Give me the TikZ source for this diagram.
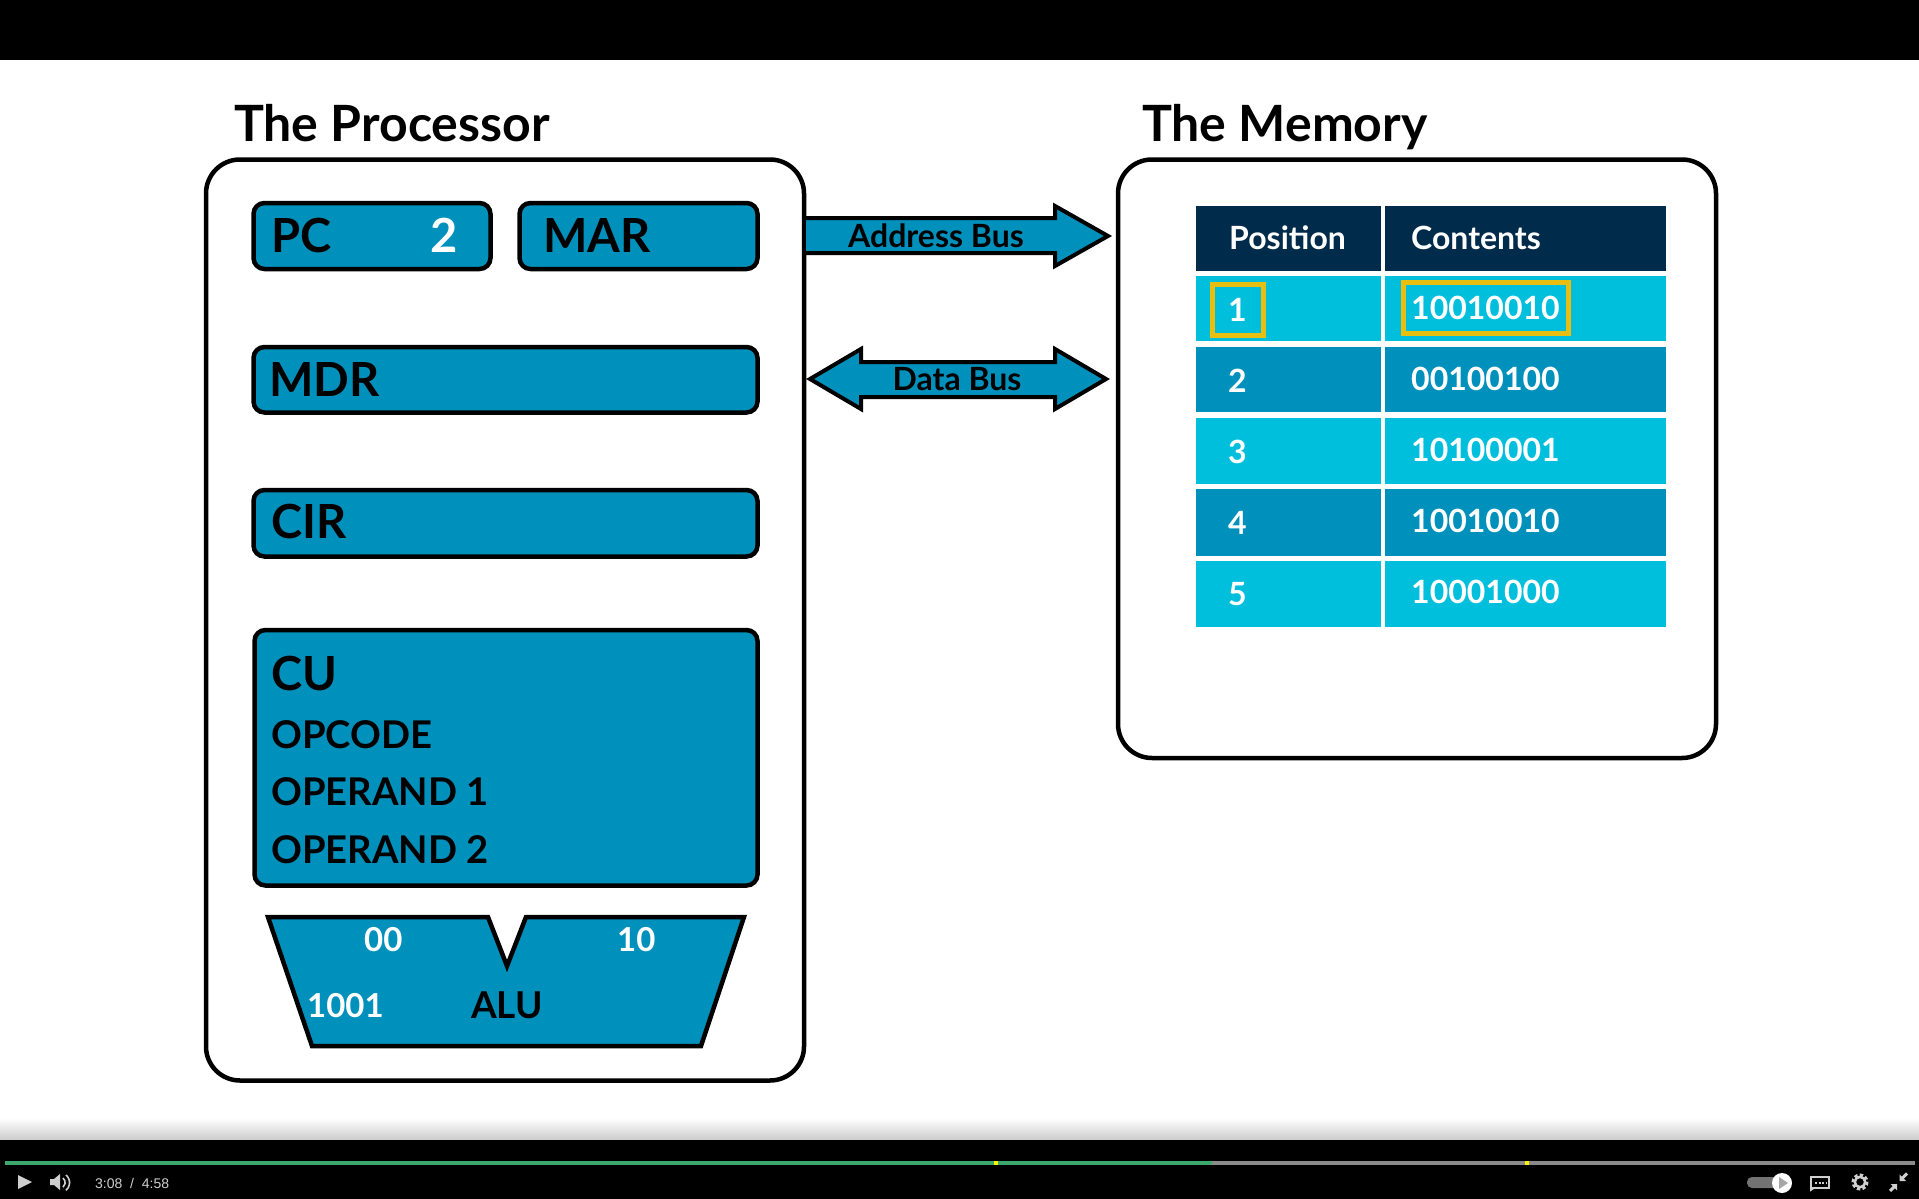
\documentclass[tikz,border=0pt]{standalone}
\usepackage{fontspec}
\setmainfont{Lato}
\newfontfamily\uifont{Liberation Sans}
\usetikzlibrary{calc}
\definecolor{fillblue}{HTML}{0090BC}
\definecolor{lightcell}{HTML}{00BFDD}
\definecolor{headcell}{HTML}{012B4A}
\definecolor{gold}{HTML}{E8BF10}
\definecolor{uigray}{HTML}{CFCFCF}
\definecolor{progressgreen}{HTML}{3CA86B}
\definecolor{progressgray}{HTML}{8A8A8A}
\newcommand{\fs}[1]{\fontsize{#1}{#1}\selectfont}
\tikzset{
  x=1pt,y=-1pt,
  outerbox/.style={draw=black,line width=4.5pt,rounded corners=34pt,fill=white},
  regbox/.style={draw=black,line width=4.5pt,rounded corners=11pt,fill=fillblue},
  busarrow/.style={draw=black,line width=4pt,fill=fillblue,line join=miter,miter limit=6},
  heading/.style={anchor=base west,inner sep=0pt,font=\fs{50}\bfseries},
  reglabel/.style={anchor=base west,inner sep=0pt,font=\fs{47}\bfseries},
  cuitem/.style={anchor=base west,inner sep=0pt,font=\fs{38.2}\bfseries},
  buslabel/.style={anchor=base,inner sep=0pt,font=\fs{32}\bfseries},
  alutext/.style={anchor=base west,inner sep=0pt,font=\fs{33}\bfseries,text=white},
  tabletext/.style={anchor=base west,inner sep=0pt,font=\fs{32}\bfseries,text=white},
  goldbox/.style={draw=gold,line width=5pt},
  uiline/.style={draw=uigray,line width=1.6pt},
}
\newcommand{\rectnode}[6]{% name, style, x1,y1,x2,y2
  \node[#2,inner sep=0pt,outer sep=0pt,minimum width={(#5-#3)*1pt},minimum height={(#6-#4)*1pt},anchor=north west] (#1) at (#3,#4) {};}
\begin{document}
\begin{tikzpicture}
\useasboundingbox (0,0) rectangle (1919,1199);
\fill[white] (0,0) rectangle (1919,1199);
% video bars
\fill[black] (0,0) rectangle (1919,60);
\shade[top color=white,bottom color=black!20] (0,1118) rectangle (1919,1140);
\fill[black] (0,1140) rectangle (1919,1199);
% titles
\node[heading] (ptitle) at (234,141) {The Processor};
\node[heading] (mtitle) at (1142,141) {The Memory};
% processor
\rectnode{proc}{outerbox}{206}{159.5}{804}{1080.5}
\rectnode{pc}{regbox}{253.5}{203}{490.5}{269}
\rectnode{mar}{regbox}{519.5}{203}{757.5}{269}
\rectnode{mdr}{regbox}{253.5}{347}{757.5}{412.5}
\rectnode{cir}{regbox}{253.5}{490}{757.5}{556.5}
\rectnode{cu}{regbox}{254.5}{630}{757.5}{885.5}
\node[reglabel] (pclab) at (271,252.5) {PC};
\node[reglabel,text=white] (pcval) at (430,252.5) {2};
\node[reglabel] (marlab) at (543,252.5) {MAR};
\node[reglabel] (mdrlab) at (269,396.5) {MDR};
\node[reglabel] (cirlab) at (271,538) {CIR};
\node[reglabel] (culab) at (271,690) {CU};
\node[cuitem] (op) at (271,748) {OPCODE};
\node[cuitem] (o1) at (271,805.5) {OPERAND 1};
\node[cuitem] (o2) at (271,863.5) {OPERAND 2};
% ALU
\draw[busarrow,line width=4.5pt] (268,917) -- (488,917) -- (507,966) -- (526,917) -- (744,917) -- (701,1046) -- (312,1046) -- cycle;
\node[alutext] (alu00) at (364,951) {00};
\node[alutext] (alu10) at (617,951) {10};
\node[alutext] (alu1001) at (307,1017) {1001};
\node[alutext,text=black,font=\fs{37}\bfseries] (alulab) at (471,1018) {ALU};
% memory
\rectnode{mem}{outerbox}{1118}{159.5}{1716}{758}
\foreach \nm/\ya/\yb/\col in {h/206/271/headcell,a/276/341/lightcell,b/347/412/fillblue,c/418/484/lightcell,d/489/556/fillblue,e/561/627/lightcell}{
  \rectnode{l\nm}{fill=\col}{1196}{\ya}{1381}{\yb}
  \rectnode{r\nm}{fill=\col}{1385}{\ya}{1666}{\yb}
}
\node[tabletext] at (1229,249.5) {Position};
\node[tabletext] at (1411,249.5) {Contents};
\node[tabletext] (n1) at (1228,321.5) {1};
\node[tabletext] (n2) at (1228,392.5) {2};
\node[tabletext] (n3) at (1228,463.5) {3};
\node[tabletext] (n4) at (1228,534.5) {4};
\node[tabletext] (n5) at (1228,605.5) {5};
\node[tabletext] (v1) at (1411,319.5) {10010010};
\node[tabletext] (v2) at (1411,390.5) {00100100};
\node[tabletext] (v3) at (1411,461.5) {10100001};
\node[tabletext] (v4) at (1411,532.5) {10010010};
\node[tabletext] (v5) at (1411,603.5) {10001000};
\rectnode{g1}{goldbox}{1212}{284}{1263}{335}
\rectnode{g2}{goldbox}{1403}{282}{1568}{333}
% buses
\draw[busarrow] (806,218) -- (1055,218) -- (1055,206) -- (1108,236) -- (1055,266) -- (1055,253) -- (806,253);
\node[buslabel] (abus) at (936,247) {Address Bus};
\draw[busarrow] (810,379) -- (861,349) -- (861,362) -- (1055,362) -- (1055,349) -- (1106,379) -- (1055,409) -- (1055,397) -- (861,397) -- (861,409) -- cycle;
\node[buslabel] (dbus) at (957,390) {Data Bus};
% player bar
\fill[progressgray] (5,1161) rectangle (1915,1165);
\fill[progressgreen] (5,1161) rectangle (1212,1165);
\fill[yellow] (994,1161) rectangle (998,1165);
\fill[yellow] (1525,1161) rectangle (1529,1165);
\fill[uigray] (18,1175) -- (32,1182) -- (18,1189) -- cycle;
\fill[uigray] (50,1179) -- (54,1179) -- (60,1174) -- (60,1190) -- (54,1185) -- (50,1185) -- cycle;
\draw[uiline] (63,1178) arc (-50:50:6);
\draw[uiline] (66,1175) arc (-50:50:10);
\node[anchor=base west,inner sep=0pt,text=uigray,font=\uifont\fs{14}] (time) at (95,1188) {3:08\ \ /\ \ 4:58};
\fill[black!55,rounded corners=5pt] (1747,1177) rectangle (1785,1188);
\fill[white] (1782,1183) circle (10);
\fill[black!35] (1779,1177) -- (1788,1183) -- (1779,1189) -- cycle;
\draw[uiline] (1811,1177) rectangle (1829,1188);
\draw[uiline] (1811,1188) -- (1811,1190) -- (1814,1188);
\draw[uigray,line width=2pt,dash pattern=on 2pt off 1.5pt] (1815,1182.5) -- (1826,1182.5);
\draw[uigray,line width=2.5pt] (1860,1182) circle (5.2);
\draw[uigray,line width=3pt,dash pattern=on 3pt off 2.45pt] (1860,1182) circle (7);
\fill[uigray] (1899.5,1181) -- (1899.5,1174.5) -- (1906,1181) -- cycle;
\draw[uigray,line width=3pt] (1902,1178.5) -- (1907,1173.5);
\fill[uigray] (1897,1184) -- (1897,1190.5) -- (1890.5,1184) -- cycle;
\draw[uigray,line width=3pt] (1894.5,1186.5) -- (1890,1191);
\end{tikzpicture}
\end{document}
